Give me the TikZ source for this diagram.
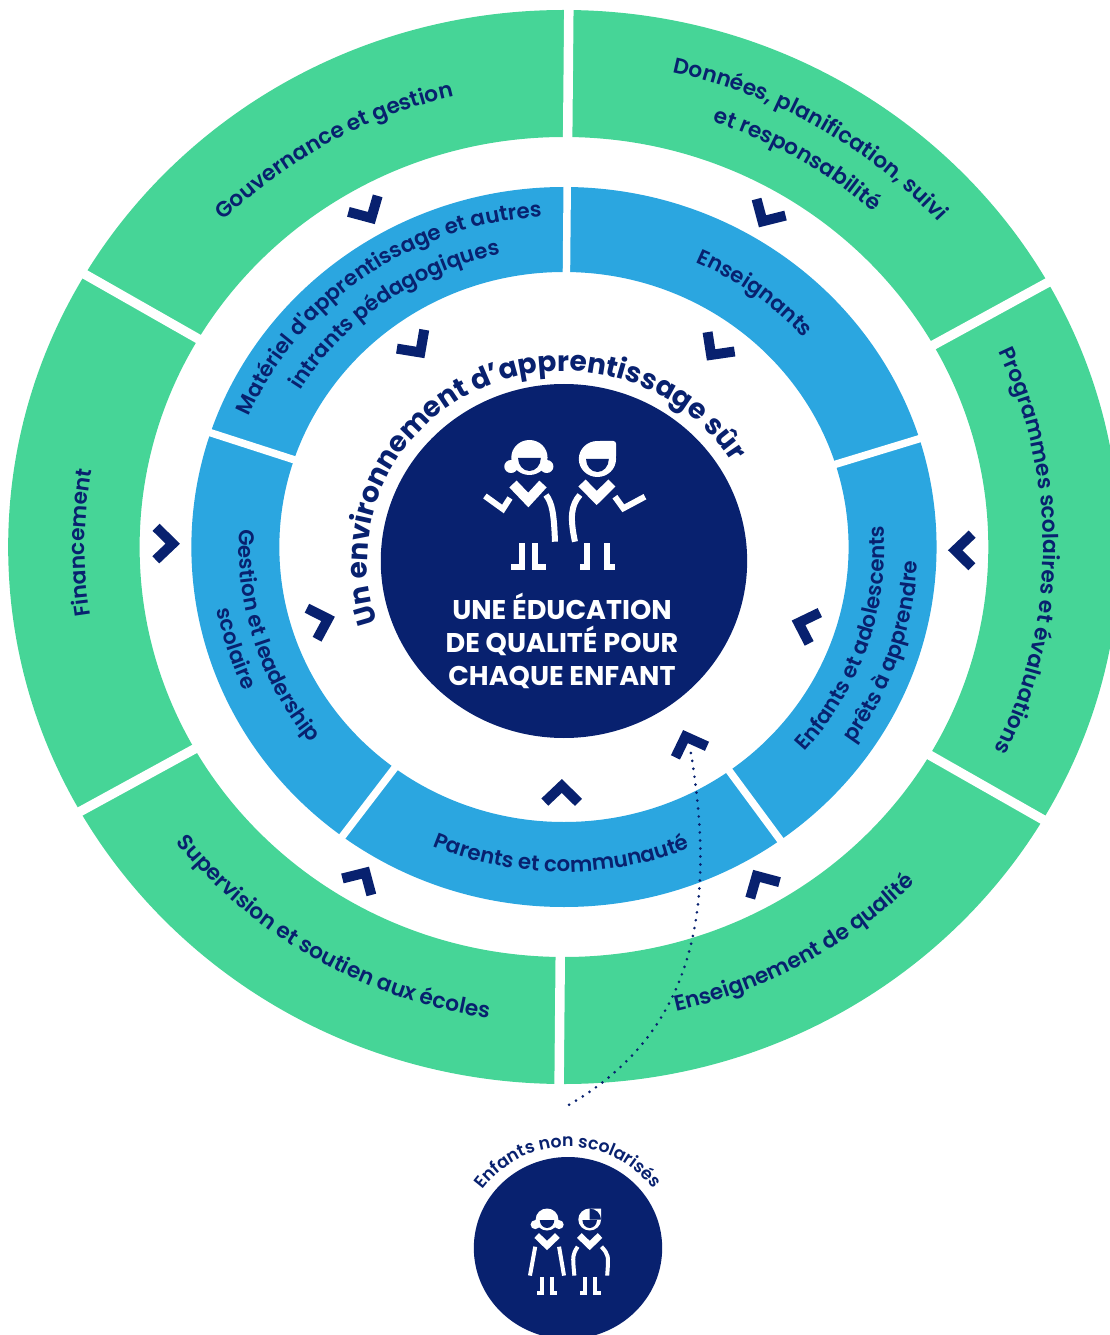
\documentclass[tikz,border=0pt]{standalone}
\usepackage{fontspec}
\setmainfont{Poppins}
\newfontfamily\popmed{Poppins Medium}
\newfontfamily\popsemi{Poppins SemiBold}
\usetikzlibrary{decorations.text}
\definecolor{ringgreen}{HTML}{46D597}
\definecolor{ringblue}{HTML}{2BA6E0}
\definecolor{navy}{HTML}{08216F}
\newcommand{\ringfont}{\popsemi\fontsize{16.3}{18}\selectfont}
\newcommand{\innerfont}{\popsemi\fontsize{16}{18}\selectfont}
\newcommand{\arcfont}{\bfseries\fontsize{21}{24}\selectfont}
\newcommand{\goalfont}{\bfseries\fontsize{20.3}{24.75}\selectfont}
\newcommand{\oosfont}{\popsemi\fontsize{13}{15}\selectfont}
\tikzset{
  chevron/.style={draw=navy, line width=7.5pt},
  gapline/.style={draw=white, line width=#1},
  kid/.style={draw=white, line width=4.5pt},
  collar/.style={draw=white, line width=7.5pt},
  arclabel/.style={decorate, decoration={text along path, text align=center, text color=navy, text={#1}}},
  dotlink/.style={draw=navy, line width=2.2pt, line cap=round, dash pattern=on 0pt off 6pt}
}
\begin{document}
\begin{tikzpicture}[x=0.77625pt, y=0.75pt]
\useasboundingbox (-544.9,-788) rectangle (527.5,547);
\fill[ringgreen, even odd rule] (0,0) circle (537) (0,0) circle (410);
\fill[ringblue, even odd rule] (0,0) circle (360) (0,0) circle (275);
\foreach \a in {89.5,29.5,-30.5,-90.5,-150.5,149.5} \draw[gapline=7.1pt] (\a:400) -- (\a:550);
\foreach \a in {89.5,17.5,-54.5,-126.5,161.5} \draw[gapline=5.6pt] (\a:265) -- (\a:370);
\foreach \a in {119.5,59.5,-0.5,-60.5,-120.5,179.5} \draw[chevron] (\a:378) ++({\a+45}:23) -- (\a:378) -- ++({\a-45}:23);
\foreach \a in {125.5,53.5,-18.5,-90.5,197.5} \draw[chevron] (\a:239) ++({\a+45}:23) -- (\a:239) -- ++({\a-45}:23);

\path[arclabel={|\ringfont|Gouvernance et gestion}] (157.5:463) arc[start angle=157.5, end angle=81.5, radius=463];
\path[arclabel={|\ringfont|Données, planification, suivi}] (97.5:486) arc[start angle=97.5, end angle=21.5, radius=486];
\path[arclabel={|\ringfont|et responsabilité}] (97.5:449) arc[start angle=97.5, end angle=21.5, radius=449];
\path[arclabel={|\ringfont|Programmes scolaires et évaluations}] (37.5:463) arc[start angle=37.5, end angle=-38.5, radius=463];
\path[arclabel={|\ringfont|Enseignement de qualité}] (-98.5:477) arc[start angle=-98.5, end angle=-22.5, radius=477];
\path[arclabel={|\ringfont|Supervision et soutien aux écoles}] (-158.5:477) arc[start angle=-158.5, end angle=-82.5, radius=477];
\path[arclabel={|\ringfont|Financement}] (217.5:463) arc[start angle=217.5, end angle=141.5, radius=463];

\path[arclabel={|\innerfont|Matériel d'apprentissage et autres}] (171.5:331) arc[start angle=171.5, end angle=79.5, radius=331];
\path[arclabel={|\innerfont|intrants pédagogiques}] (171.5:299) arc[start angle=171.5, end angle=79.5, radius=299];
\path[arclabel={|\innerfont|Enseignants}] (99.5:312) arc[start angle=99.5, end angle=7.5, radius=312];
\path[arclabel={|\innerfont|Enfants et adolescents}] (-64.5:310) arc[start angle=-64.5, end angle=27.5, radius=310];
\path[arclabel={|\innerfont|prêts à apprendre}] (-64.5:342) arc[start angle=-64.5, end angle=27.5, radius=342];
\path[arclabel={|\innerfont|Parents et communauté}] (-136.5:325) arc[start angle=-136.5, end angle=-44.5, radius=325];
\path[arclabel={|\innerfont|Gestion et leadership}] (151.5:314) arc[start angle=151.5, end angle=243.5, radius=314];
\path[arclabel={|\innerfont|scolaire}] (151.5:341) arc[start angle=151.5, end angle=243.5, radius=341];

\fill[navy] (0,-14) circle (177);
\path[arclabel={|\arcfont|Un environnement d'apprentissage sûr}] (0,-14) ++(215:190) arc[start angle=215, end angle=15, radius=190];
\node[text=white, align=center, font=\goalfont] (goal) at (-1.9,-94) {UNE ÉDUCATION\\DE QUALITÉ POUR\\CHAQUE ENFANT};

\begin{scope}[shift={(-0.97,42)}]
\fill[white] (-32.4,47.5) circle (17.5) (-50.2,38.5) circle (6.5) (-15.7,38.5) circle (6.5);
\fill[navy] (-21.4,47) arc[start angle=0, end angle=-180, x radius=11, y radius=13] -- cycle;
\fill[white, rounded corners=2pt] (33.3,46) -- (51.3,46) -- (51.3,64) -- (33.3,64) -- cycle;
\fill[white] (33.3,46) circle (18);
\fill[navy] (44.3,46) arc[start angle=0, end angle=-180, x radius=11, y radius=13] -- cycle;
\draw[collar] (-48.3,21) -- (-33.5,5) -- (-19.3,21) (18.4,22) -- (32.6,7) -- (47.3,22);
\draw[kid] (-75.4,9) -- (-58,-4) -- (-51.2,7) (50.2,8.3) -- (58.3,-3.3) -- (79.2,8.3);
\draw[kid] (-16.4,10) .. controls (-10.5,2) and (-8.7,-8) .. (-7.7,-36.7) (16.4,10) .. controls (8,0) and (6.5,-12) .. (11.6,-36.7);
\draw[kid] (-39.9,-38) -- (-39.9,-62) -- (-50.2,-62) (-27.3,-38) -- (-27.3,-62) -- (-16.4,-62) (22.9,-38) -- (22.9,-62) -- (16.4,-62) (42.2,-38) -- (42.2,-62) -- (50.2,-62);
\end{scope}

\draw[chevron] (107.7,-210.4) -- (117.4,-189.6) -- (138.2,-199.3);
\coordinate (entry) at (122.7,-206);

\fill[navy] (3.9,-701) circle (91);
\path[arclabel={|\oosfont|Enfants non scolarisés}] (3.9,-701) ++(160:101) arc[start angle=160, end angle=20, radius=101];
\coordinate (oos) at (2.9,-559);
\draw[dotlink] (entry) .. controls (145.9,-353) and (131.4,-483) .. (oos);

\begin{scope}[shift={(4.25,-703)}]
\fill[white] (-20.6,30.5) circle (11) (-32,25.4) circle (4.5) (-9,25.4) circle (4.5);
\fill[navy] (-13.6,30) arc[start angle=0, end angle=-180, x radius=7, y radius=8] -- cycle;
\fill[white] (20.6,30.5) circle (11) (20.6,30.5) rectangle (31.6,41.5);
\fill[navy] (27.6,30) arc[start angle=0, end angle=-180, x radius=7, y radius=8] -- cycle;
\draw[collar, line width=5pt] (-30.6,14.5) -- (-20.6,4.5) -- (-10.6,14.5) (10.6,14.5) -- (20.6,4.5) -- (30.6,14.5);
\draw[kid, line width=3pt] (-32,3.3) -- (-37.1,-25.6) (-9,3.3) -- (-4.2,-25.6) (9,3.3) .. controls (4,-5) .. (5.8,-25.6) (32,3.3) .. controls (39,-5) .. (37.5,-25.6);
\draw[kid, line width=3pt] (-25.1,-27) -- (-25.1,-43) -- (-30,-43) (-15.6,-27) -- (-15.6,-43) -- (-10.7,-43) (15.8,-27) -- (15.8,-43) -- (10.9,-43) (25.6,-27) -- (25.6,-43) -- (32,-43);
\end{scope}
\end{tikzpicture}
\end{document}
